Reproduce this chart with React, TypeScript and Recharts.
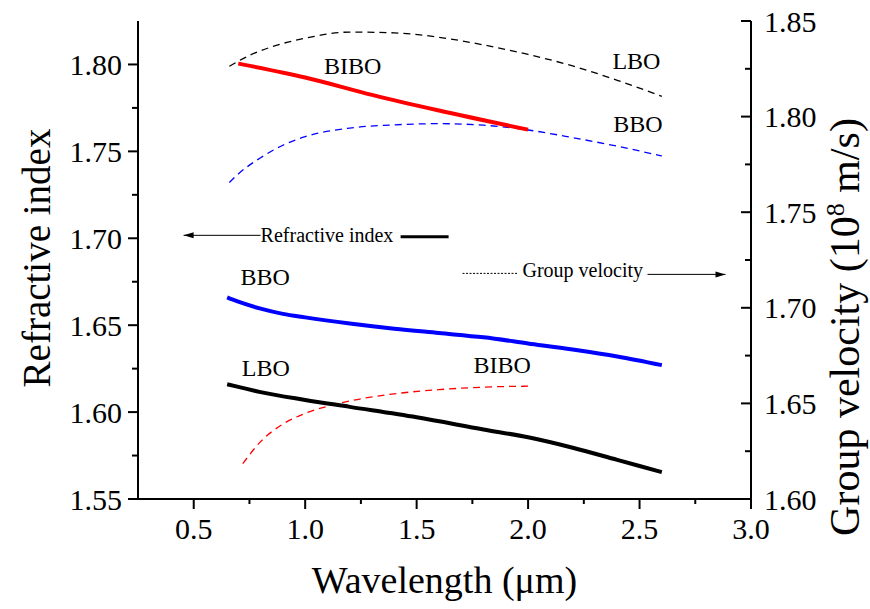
import React from 'react';
import { LineChart, Line, XAxis, YAxis, ReferenceDot, Label } from 'recharts';

const FONT = '"Liberation Serif", "Times New Roman", Times, serif';

// refractive index (left axis), solid lines
const lboRiX = [0.65, 0.7, 0.8, 1.0, 1.2, 1.5, 1.8, 2.0, 2.2, 2.4, 2.6];
const lboRiY = [1.616, 1.6145, 1.6115, 1.607, 1.603, 1.597, 1.59, 1.5855, 1.5795, 1.5725, 1.5655];
const bboRiX = [0.65, 0.7, 0.8, 0.9, 1.0, 1.2, 1.4, 1.6, 1.8, 2.0, 2.2, 2.4, 2.6];
const bboRiY = [1.666, 1.6635, 1.6595, 1.6565, 1.6545, 1.651, 1.648, 1.6455, 1.643, 1.6395, 1.636, 1.632, 1.627];
const biboRiX = [0.7, 1.0, 1.3, 1.6, 2.0];
const biboRiY = [1.8005, 1.7925, 1.7825, 1.7735, 1.7625];

// group velocity (right axis, 10^8 m/s), dashed lines
const lboGvX = [0.66, 0.75, 0.85, 1.0, 1.2, 1.4, 1.6, 1.8, 2.0, 2.2, 2.4, 2.6];
const lboGvY = [1.8263, 1.832, 1.8365, 1.841, 1.8442, 1.8438, 1.8415, 1.8375, 1.8325, 1.8265, 1.819, 1.8106];
const bboGvX = [0.66, 0.7, 0.8, 0.9, 1.0, 1.2, 1.4, 1.6, 1.8, 2.0, 2.2, 2.4, 2.6];
const bboGvY = [1.7655, 1.77, 1.7785, 1.785, 1.7895, 1.794, 1.7957, 1.7963, 1.7955, 1.793, 1.789, 1.7845, 1.7794];
const biboGvX = [0.72, 0.8, 0.9, 1.0, 1.1, 1.2, 1.4, 1.6, 1.8, 2.0];
const biboGvY = [1.6185, 1.63, 1.6392, 1.6448, 1.6485, 1.6513, 1.655, 1.6572, 1.6585, 1.659];

// ticks
const xTicks = [0.5, 0.75, 1.0, 1.25, 1.5, 1.75, 2.0, 2.25, 2.5, 2.75, 3.0];
const topTicks = [0.525, 0.8, 1.075, 1.35, 1.625, 1.9, 2.175, 2.45, 2.725];
const leftTicks = [1.55, 1.575, 1.6, 1.625, 1.65, 1.675, 1.7, 1.725, 1.75, 1.775, 1.8];
const rightTicks = [1.6, 1.625, 1.65, 1.675, 1.7, 1.725, 1.75, 1.775, 1.8, 1.825, 1.85];

// curve names written inside the plot
const curveLabels = [
  { text: 'BIBO', x: 1.213, y: 1.799, axis: 'left' },
  { text: 'BBO', x: 0.82, y: 1.6776, axis: 'left' },
  { text: 'LBO', x: 0.823, y: 1.6252, axis: 'left' },
  { text: 'LBO', x: 2.486, y: 1.829, axis: 'right' },
  { text: 'BBO', x: 2.493, y: 1.7963, axis: 'right' },
  { text: 'BIBO', x: 1.884, y: 1.6699, axis: 'right' },
];

const zip = (xs: number[], ys: number[]) => xs.map((x, i) => ({ x, y: ys[i] }));

const isMajor = (v: number, step: number) => Math.abs(v / step - Math.round(v / step)) < 1e-6;

function BottomTick({ x, y, payload }: any) {
  const v = payload.value;
  const major = isMajor(v, 0.5);
  return (
    <g>
      <line x1={x} x2={x} y1={y} y2={y + (major ? 10 : 5)} stroke="#000" strokeWidth={2} />
      {major && (
        <text x={x} y={y + 40} textAnchor="middle" fontSize={30} fontFamily={FONT} fill="#000">
          {v.toFixed(1)}
        </text>
      )}
    </g>
  );
}

function TopTick({ x, y }: any) {
  return <line x1={x} x2={x} y1={y} y2={y + 5} stroke="#000" strokeWidth={2} />;
}

function LeftTick({ x, y, payload }: any) {
  const v = payload.value;
  const major = isMajor(v, 0.05);
  return (
    <g>
      <line x1={x - (major ? 10 : 6)} x2={x} y1={y} y2={y} stroke="#000" strokeWidth={2} />
      {major && (
        <text x={x - 16} y={y} textAnchor="end" dominantBaseline="central" fontSize={30} fontFamily={FONT} fill="#000">
          {v.toFixed(2)}
        </text>
      )}
    </g>
  );
}

function RightTick({ x, y, payload }: any) {
  const v = payload.value;
  const major = isMajor(v, 0.05);
  return (
    <g>
      <line x1={x - (major ? 10 : 6)} x2={x} y1={y} y2={y} stroke="#000" strokeWidth={2} />
      {major && (
        <text x={x + 13} y={y} textAnchor="start" dominantBaseline="central" fontSize={30} fontFamily={FONT} fill="#000">
          {v.toFixed(2)}
        </text>
      )}
    </g>
  );
}

function Arrowhead({ x, y, dir }: { x: number; y: number; dir: number }) {
  return <path d={`M${x},${y} L${x - dir * 10},${y - 3} L${x - dir * 10},${y + 3} Z`} fill="#000" />;
}

// "<---- Refractive index ____" key, anchored at the start of the text
function RiKey({ cx, cy }: any) {
  return (
    <g>
      <line x1={cx - 77} x2={cx} y1={cy} y2={cy} stroke="#000" strokeWidth={1} />
      <Arrowhead x={cx - 77} y={cy} dir={-1} />
      <text x={cx} y={cy + 6.5} fontSize={20} fontFamily={FONT} fill="#000">Refractive index</text>
      <line x1={cx + 140} x2={cx + 188} y1={cy + 1.5} y2={cy + 1.5} stroke="#000" strokeWidth={3} />
    </g>
  );
}

// "------ Group velocity ---->" key, anchored at the start of the text
function GvKey({ cx, cy }: any) {
  return (
    <g>
      <line x1={cx - 60} x2={cx - 4} y1={cy} y2={cy} stroke="#000" strokeWidth={1} strokeDasharray="2 1.5" />
      <text x={cx} y={cy + 4} fontSize={20} fontFamily={FONT} fill="#000">Group velocity</text>
      <line x1={cx + 125} x2={cx + 203} y1={cy + 1} y2={cy + 1} stroke="#000" strokeWidth={1} />
      <Arrowhead x={cx + 203} y={cy + 1} dir={1} />
    </g>
  );
}

function CurveLabel({ cx, cy, text }: any) {
  return (
    <text x={cx} y={cy + 8} textAnchor="middle" fontSize={24} fontFamily={FONT} fill="#000">
      {text}
    </text>
  );
}

export default function App() {
  return (
    <div style={{ position: 'absolute', left: 0, top: 0, background: '#fff' }}>
      <LineChart width={870} height={609} margin={{ top: 21, right: 0, bottom: 0, left: 0 }}>
        <XAxis
          xAxisId="bottom"
          dataKey="x"
          type="number"
          domain={[0.25, 3.0]}
          ticks={xTicks}
          interval={0}
          allowDataOverflow
          height={110}
          tickSize={0}
          tickMargin={0}
          tick={<BottomTick />}
          axisLine={{ stroke: '#000', strokeWidth: 2 }}
        >
          <Label
            content={({ viewBox }: any) => (
              <text
                x={viewBox.x + viewBox.width / 2}
                y={viewBox.y + 94}
                textAnchor="middle"
                fontSize={38}
                fontFamily={FONT}
                fill="#000"
              >
                Wavelength (μm)
              </text>
            )}
          />
        </XAxis>
        <XAxis
          xAxisId="top"
          orientation="top"
          dataKey="x"
          type="number"
          domain={[0.25, 3.0]}
          ticks={topTicks}
          interval={0}
          allowDataOverflow
          height={0}
          tickSize={0}
          tickMargin={0}
          tick={<TopTick />}
          axisLine={{ stroke: '#000', strokeWidth: 2 }}
        />
        <YAxis
          yAxisId="left"
          type="number"
          domain={[1.55, 1.825]}
          ticks={leftTicks}
          interval={0}
          allowDataOverflow
          width={138}
          tickSize={0}
          tickMargin={0}
          tick={<LeftTick />}
          axisLine={{ stroke: '#000', strokeWidth: 2 }}
        >
          <Label
            content={({ viewBox }: any) => {
              const tx = viewBox.x + 50;
              const ty = viewBox.y + viewBox.height / 2 - 2;
              return (
                <text
                  x={tx}
                  y={ty}
                  transform={`rotate(-90 ${tx} ${ty})`}
                  textAnchor="middle"
                  fontSize={39}
                  fontFamily={FONT}
                  fill="#000"
                >
                  Refractive index
                </text>
              );
            }}
          />
        </YAxis>
        <YAxis
          yAxisId="right"
          orientation="right"
          type="number"
          domain={[1.6, 1.85]}
          ticks={rightTicks}
          interval={0}
          allowDataOverflow
          width={119}
          tickSize={0}
          tickMargin={0}
          tick={<RightTick />}
          axisLine={{ stroke: '#000', strokeWidth: 2 }}
        >
          <Label
            content={({ viewBox }: any) => {
              const tx = viewBox.x + 108;
              const ty = viewBox.y + viewBox.height / 2 + 67;
              return (
                <text
                  x={tx}
                  y={ty}
                  transform={`rotate(-90 ${tx} ${ty})`}
                  textAnchor="middle"
                  fontSize={42}
                  fontFamily={FONT}
                  fill="#000"
                >
                  Group velocity (10
                  <tspan dy={-15} fontSize={26}>8</tspan>
                  <tspan dy={15}> m/s)</tspan>
                </text>
              );
            }}
          />
        </YAxis>

        <Line xAxisId="bottom" yAxisId="right" data={zip(lboGvX, lboGvY)} dataKey="y" type="monotone"
          stroke="#000" strokeWidth={1.3} strokeDasharray="7 5" dot={false} isAnimationActive={false} />
        <Line xAxisId="bottom" yAxisId="right" data={zip(bboGvX, bboGvY)} dataKey="y" type="monotone"
          stroke="#0000ff" strokeWidth={1.3} strokeDasharray="7 5" dot={false} isAnimationActive={false} />
        <Line xAxisId="bottom" yAxisId="right" data={zip(biboGvX, biboGvY)} dataKey="y" type="monotone"
          stroke="#ff0000" strokeWidth={1.3} strokeDasharray="7 5" dot={false} isAnimationActive={false} />
        <Line xAxisId="bottom" yAxisId="left" data={zip(biboRiX, biboRiY)} dataKey="y" type="monotone"
          stroke="#ff0000" strokeWidth={4} dot={false} isAnimationActive={false} />
        <Line xAxisId="bottom" yAxisId="left" data={zip(bboRiX, bboRiY)} dataKey="y" type="monotone"
          stroke="#0000ff" strokeWidth={4} dot={false} isAnimationActive={false} />
        <Line xAxisId="bottom" yAxisId="left" data={zip(lboRiX, lboRiY)} dataKey="y" type="monotone"
          stroke="#000" strokeWidth={4} dot={false} isAnimationActive={false} />

        {curveLabels.map((l, i) => (
          <ReferenceDot
            key={i}
            xAxisId="bottom"
            yAxisId={l.axis}
            x={l.x}
            y={l.y}
            r={1}
            ifOverflow="visible"
            shape={(p: any) => <CurveLabel cx={p.cx} cy={p.cy} text={l.text} />}
          />
        ))}
        <ReferenceDot xAxisId="bottom" yAxisId="left" x={0.8} y={1.7017} r={1} ifOverflow="visible"
          shape={(p: any) => <RiKey cx={p.cx} cy={p.cy} />} />
        <ReferenceDot xAxisId="bottom" yAxisId="right" x={1.975} y={1.718} r={1} ifOverflow="visible"
          shape={(p: any) => <GvKey cx={p.cx} cy={p.cy} />} />
      </LineChart>
    </div>
  );
}
